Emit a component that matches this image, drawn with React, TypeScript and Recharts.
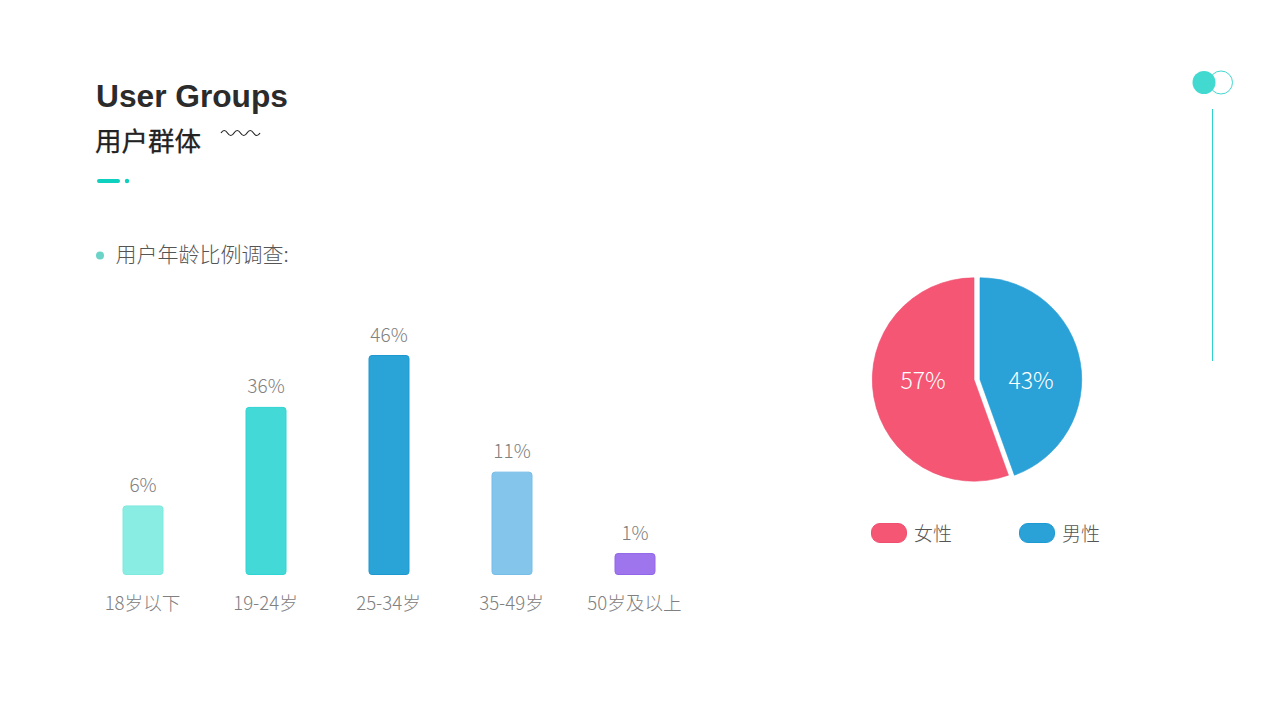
import React from "react";
import { BarChart, Bar, XAxis, YAxis, Cell, LabelList, PieChart, Pie, Legend } from "recharts";

const ageGroups = ["18岁以下", "19-24岁", "25-34岁", "35-49岁", "50岁及以上"];
const ageLabels = ["6%", "36%", "46%", "11%", "1%"];
// Bar lengths as drawn in the picture (they are not proportional to the printed labels).
const ageBarLengths = [14.4, 35.1, 46, 21.5, 4.4];
const ageColors = ["#8AEDE3", "#42D9D6", "#2AA3D7", "#84C5EC", "#9F75EE"];
const ageStrokes = ["#7FE9DE", "#30D4D2", "#1E99D0", "#76BDE9", "#9266E8"];

const genderNames = ["女性", "男性"];
const genderLabels = ["57%", "43%"];
// Slice sizes as drawn in the picture.
const genderSlices = [55.5, 44.5];
const genderColors = ["#F45674", "#2AA2D8"];
const genderStrokes = ["#EF4F70", "#1E9AD3"];

const FONT = '"Noto Sans CJK SC", "Noto Sans", sans-serif';
const ageRows = ageGroups.map((name, i) => ({ name, value: ageBarLengths[i], label: ageLabels[i] }));

const femaleAngle = (genderSlices[0] / 100) * 360;
const maleAngle = (genderSlices[1] / 100) * 360;

function sliceLabel(side: number, text: string) {
  return (p: any) => (
    <text
      x={p.cx + side * 51}
      y={p.cy - 0.5}
      textAnchor="middle"
      dominantBaseline="central"
      fill="#fff"
      fontSize={23}
      fontWeight={300}
      fontFamily={FONT}
    >
      {text}
    </text>
  );
}

function GenderLegend() {
  return (
    <div style={{ position: "relative", width: 260, height: 24 }}>
      {genderNames.map((n, i) => (
        <div key={n} style={{ position: "absolute", left: i * 148, top: 0, display: "flex", alignItems: "center", height: 24 }}>
          <span
            style={{
              display: "inline-block",
              width: 34,
              height: 18,
              borderRadius: 9,
              background: genderColors[i],
              border: `1px solid ${genderStrokes[i]}`,
            }}
          />
          <span style={{ marginLeft: 7, fontSize: 19, fontWeight: 300, color: "#555", fontFamily: FONT, lineHeight: "24px" }}>{n}</span>
        </div>
      ))}
    </div>
  );
}

export default function App() {
  return (
    <div style={{ position: "absolute", left: 0, top: 0, width: 1280, height: 720, background: "#fff", overflow: "hidden" }}>
      <svg width={1280} height={720} style={{ position: "absolute", left: 0, top: 0 }}>
        <text x={96} y={107} fontFamily='"Liberation Sans", Arial, sans-serif' fontWeight={700} fontSize={31.7} fill="#2b2b2b">
          User Groups
        </text>
        <text x={95} y={151} fontFamily={FONT} fontWeight={400} fontSize={26.5} fill="#222" stroke="#222" strokeWidth={0.3}>
          用户群体
        </text>
        <path
          d="M221 133 Q224.2 128 227.5 133 T234 133 T240.5 133 T247 133 T253.5 133 T260 133"
          fill="none"
          stroke="#222"
          strokeWidth={1.2}
        />
        <rect x={97} y={179} width={23} height={4} rx={2} fill="#0ED0BE" />
        <circle cx={127} cy={181} r={2.2} fill="#0ED0BE" />
        <circle cx={100} cy={255.5} r={4} fill="#6BD3C8" />
        <text x={115.5} y={262} fontFamily={FONT} fontWeight={300} fontSize={21} fill="#555">
          用户年龄比例调查:
        </text>
        <circle cx={1221} cy={82.5} r={11.5} fill="#fff" stroke="#42D9D0" strokeWidth={1} />
        <circle cx={1204} cy={82.5} r={11.5} fill="#42D9D0" />
        <line x1={1212.5} y1={109} x2={1212.5} y2={361} stroke="#2ED3D0" strokeWidth={1} />
      </svg>

      <div style={{ position: "absolute", left: 81, top: 300 }}>
        <BarChart width={615} height={320} data={ageRows} margin={{ top: 55.5, right: 0, bottom: 0, left: 0 }} barSize={40}>
          <XAxis
            dataKey="name"
            axisLine={false}
            tickLine={false}
            interval={0}
            height={45.5}
            tickMargin={16}
            tick={{ fill: "#808080", fontSize: 18.6, fontWeight: 300, fontFamily: FONT }}
          />
          <YAxis hide domain={[0, 46]} />
          <Bar dataKey="value" radius={3} isAnimationActive={false}>
            {ageRows.map((r, i) => (
              <Cell key={r.name} fill={ageColors[i]} stroke={ageStrokes[i]} strokeWidth={1} />
            ))}
            <LabelList dataKey="label" position="top" offset={14} fill="#808080" fontSize={19} fontWeight={300} fontFamily={FONT} />
          </Bar>
        </BarChart>
      </div>

      <div style={{ position: "absolute", left: 840, top: 260 }}>
        <PieChart width={300} height={300} margin={{ top: 0, right: 0, bottom: 0, left: 0 }}>
          <Pie
            data={[{ name: genderNames[0], value: genderSlices[0] }]}
            dataKey="value"
            cx={134}
            cy={119.5}
            outerRadius={101.7}
            startAngle={90}
            endAngle={90 + femaleAngle}
            fill={genderColors[0]}
            stroke={genderStrokes[0]}
            strokeWidth={0.6}
            label={sliceLabel(-1, genderLabels[0])}
            labelLine={false}
            isAnimationActive={false}
          />
          <Pie
            data={[{ name: genderNames[1], value: genderSlices[1] }]}
            dataKey="value"
            cx={140}
            cy={119.5}
            outerRadius={101.7}
            startAngle={90}
            endAngle={90 - maleAngle}
            fill={genderColors[1]}
            stroke={genderStrokes[1]}
            strokeWidth={0.6}
            label={sliceLabel(1, genderLabels[1])}
            labelLine={false}
            isAnimationActive={false}
          />
          <Legend content={<GenderLegend />} wrapperStyle={{ position: "absolute", left: 31, top: 261, width: 260, height: 24 }} />
        </PieChart>
      </div>
    </div>
  );
}
